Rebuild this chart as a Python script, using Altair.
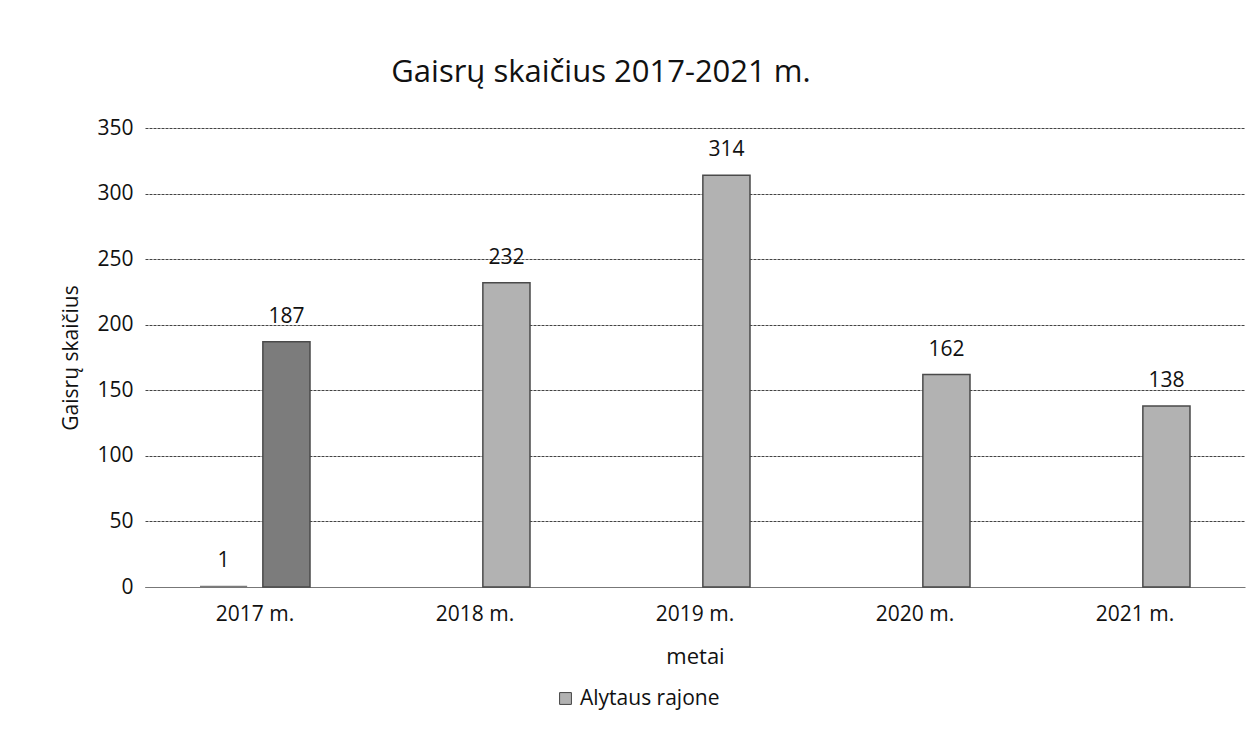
import altair as alt
import pandas as pd

years = ["2017 m.", "2018 m.", "2019 m.", "2020 m.", "2021 m."]
series_names = ["Serija 1", "Alytaus rajone"]
serija1 = [1, None, None, None, None]
alytaus = [187, 232, 314, 162, 138]

rows = []
for i, y in enumerate(years):
    rows.append({"metai": y, "serija": series_names[0], "value": serija1[i]})
    rows.append({"metai": y, "serija": series_names[1], "value": alytaus[i]})
df = pd.DataFrame(rows)

FONT = "Open Sans"

x = alt.X("metai:N", sort=years,
          scale=alt.Scale(paddingInner=0.5, paddingOuter=0.25),
          axis=alt.Axis(title="metai", labelAngle=0, labelFontSize=21, titleFontSize=22,
                        labelColor="#111", titleColor="#111", labelPadding=16, titlePadding=22,
                        ticks=False, domainColor="#777", domainWidth=1, grid=False,
                        titleFontWeight="normal", labelFont=FONT, titleFont=FONT))
xo = alt.XOffset("serija:N", sort=series_names,
                 scale=alt.Scale(paddingInner=0.25, paddingOuter=0))
y = alt.Y("value:Q", scale=alt.Scale(domain=[0, 350]),
          axis=alt.Axis(title="Gaisrų skaičius", values=list(range(0, 351, 50)), labelFontSize=21,
                        titleFontSize=21, labelColor="#111", titleColor="#111", labelPadding=12,
                        titlePadding=15, ticks=False, domain=False, gridColor="#444",
                        gridDash=[3, 1], gridWidth=1, titleFontWeight="normal",
                        labelFont=FONT, titleFont=FONT))

bars = alt.Chart(df).mark_bar(strokeWidth=1.5).encode(
    x=x, xOffset=xo, y=y,
    color=alt.condition(
        alt.datum.metai == "2017 m.",
        alt.value("#7c7c7c"),
        alt.Color("serija:N", sort=series_names,
                  scale=alt.Scale(domain=series_names, range=["#cccccc", "#b2b2b2"]),
                  legend=alt.Legend(title=None, values=["Alytaus rajone"], orient="none",
                                    legendX=410, legendY=560, symbolType="square",
                                    symbolSize=140, symbolStrokeColor="#444", symbolStrokeWidth=1,
                                    symbolFillColor="#999999",
                                    labelFontSize=21, labelColor="#111", labelFont=FONT)),
    ),
    stroke=alt.condition(alt.datum.serija == "Alytaus rajone", alt.value("#4a4a4a"),
                         alt.value(None)),
)

labels = alt.Chart(df).transform_filter("isValid(datum.value)").mark_text(
    dy=-25, fontSize=21, color="#111", font=FONT
).encode(x=x, xOffset=xo, y=y, text=alt.Text("value:Q"))

chart = alt.layer(bars, labels).properties(
    width=1100, height=459,
    title=alt.TitleParams("Gaisrų skaičius 2017-2021 m.", fontSize=31, font=FONT,
                          fontWeight="normal", color="#111", dx=-94, offset=28),
    padding={"left": 137, "top": 120, "right": 1, "bottom": 135},
    autosize=alt.AutoSizeParams(type="none"),
).configure(font=FONT, view=alt.ViewConfig(stroke=None))

chart.save("out.html", embed_options={"renderer": "svg", "actions": False})
